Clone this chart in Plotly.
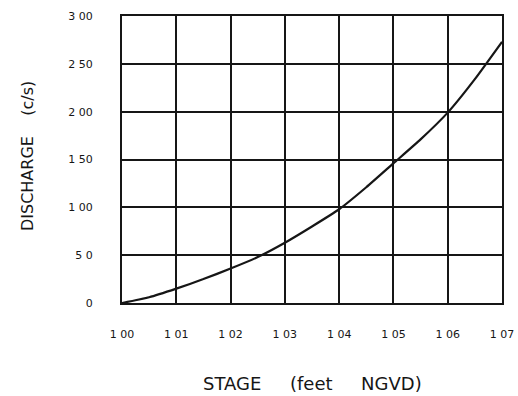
import plotly.graph_objects as go

# Stage-discharge rating curve
stage_ft = [100.0, 100.5, 101.0, 101.5, 102.0, 102.5, 103.0, 103.5,
            104.0, 104.5, 105.0, 105.5, 106.0, 106.5, 107.0]
discharge_cfs = [0, 6, 15, 25, 36, 48, 63, 80, 98, 121, 146, 171, 199, 234, 273]

x_ticks = [100, 101, 102, 103, 104, 105, 106, 107]
x_tick_text = ["1 00", "1 01", "1 02", "1 03", "1 04", "1 05", "1 06", "1 07"]
y_ticks = [0, 50, 100, 150, 200, 250, 300]
y_tick_text = ["0", "5 0", "1 00", "1 50", "2 00", "2 50", "3 00"]

ink = "#161616"
label_font = dict(family="DejaVu Sans", size=11, color=ink)

fig = go.Figure()
fig.add_trace(go.Scatter(
    x=stage_ft, y=discharge_cfs, mode="lines",
    line=dict(color=ink, width=2.2, shape="spline", smoothing=0.5),
    showlegend=False, hoverinfo="skip",
))

axis_common = dict(
    showgrid=True, gridcolor=ink, gridwidth=2,
    showline=True, linecolor=ink, linewidth=2, mirror=True,
    zeroline=False, ticks="outside", tickcolor="rgba(0,0,0,0)",
    tickfont=label_font, automargin=False,
)

fig.update_xaxes(range=[100, 107], tickvals=x_ticks, ticktext=x_tick_text,
                 ticklen=20, **axis_common)
fig.update_yaxes(range=[0, 300], tickvals=y_ticks, ticktext=y_tick_text,
                 ticklen=25, **axis_common)

fig.add_annotation(
    text="STAGE     (feet     NGVD)", xref="paper", yref="paper",
    x=0.5, y=-0.279, xanchor="center", yanchor="middle", showarrow=False,
    font=dict(family="DejaVu Sans", size=18, color=ink),
)
fig.add_annotation(
    text="DISCHARGE    (c/s)", xref="paper", yref="paper",
    x=-0.25, y=0.512, xanchor="center", yanchor="middle", showarrow=False,
    textangle=-90,
    font=dict(family="DejaVu Sans", size=16, color=ink),
)

fig.update_layout(
    width=518, height=396,
    margin=dict(l=122, r=16, t=16, b=93),
    paper_bgcolor="white", plot_bgcolor="white",
)

fig.write_html("out.html")
